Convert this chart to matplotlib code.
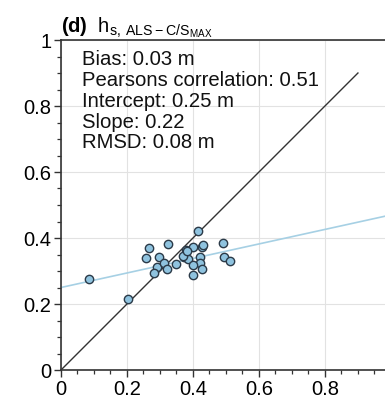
import matplotlib
matplotlib.use("Agg")
import matplotlib.pyplot as plt
from matplotlib.ticker import MultipleLocator

plt.rcParams['font.family'] = ['Liberation Sans', 'DejaVu Sans']
plt.rcParams['mathtext.fontset'] = 'custom'
plt.rcParams['mathtext.rm'] = 'Liberation Sans'
plt.rcParams['mathtext.bf'] = 'Liberation Sans:bold'
plt.rcParams['mathtext.default'] = 'regular'

# reference (x) vs estimate (y)
x_vals = [0.086, 0.204, 0.416, 0.268, 0.325, 0.258, 0.297, 0.290, 0.282, 0.312,
          0.320, 0.348, 0.378, 0.373, 0.386, 0.401, 0.427, 0.430, 0.421, 0.421,
          0.401, 0.428, 0.401, 0.490, 0.495, 0.512, 0.369, 0.383]
y_vals = [0.276, 0.214, 0.421, 0.369, 0.383, 0.338, 0.343, 0.313, 0.293, 0.323,
          0.306, 0.320, 0.364, 0.343, 0.335, 0.374, 0.374, 0.380, 0.343, 0.323,
          0.318, 0.306, 0.288, 0.386, 0.343, 0.330, 0.345, 0.360]

bias = 0.03
pearson_r = 0.51
intercept = 0.25
slope = 0.22
rmsd = 0.08
one_to_one_end = 0.9

fig = plt.figure(figsize=(3.85, 4.01), dpi=100)
ax = fig.add_axes([61 / 385, 31 / 401, 324 / 385, 330 / 401])

ax.grid(True, which='major', color='#e2e2e2', lw=0.8, zorder=0)

# 1:1 line
ax.plot([0, one_to_one_end], [0, one_to_one_end], color='#333333', lw=1.0, zorder=2)

# linear fit
xl = [0, 1]
ax.plot(xl, [intercept + slope * v for v in xl], color='#a6d0e4', lw=1.2, zorder=2)

ax.scatter(x_vals, y_vals, s=36, facecolor='#8fc3df', edgecolor='#2b3a48',
           linewidth=1.0, zorder=3)

ax.text(0.064, 0.969,
        f"Bias: {bias:.2f} m\n"
        f"Pearsons correlation: {pearson_r:.2f}\n"
        f"Intercept: {intercept:.2f} m\n"
        f"Slope: {slope:.2f}\n"
        f"RMSD: {rmsd:.2f} m",
        transform=ax.transAxes, va='top', ha='left', fontsize=14.6,
        linespacing=1.12, color='#111111')

ax.set_title(r"$\mathbf{(d)}$  $h_{s,\,ALS-C/S_{MAX}}$", loc='left',
             fontsize=14.5, pad=2, x=0.0)

ax.set_xlim(0, 0.982)
ax.set_ylim(0, 1)
ax.xaxis.set_major_locator(MultipleLocator(0.2))
ax.xaxis.set_minor_locator(MultipleLocator(0.05))
ax.yaxis.set_major_locator(MultipleLocator(0.2))
ax.yaxis.set_minor_locator(MultipleLocator(0.05))
ax.set_xticks([0, 0.2, 0.4, 0.6, 0.8])
ax.set_xticklabels(['0', '0.2', '0.4', '0.6', '0.8'])
ax.set_yticks([0, 0.2, 0.4, 0.6, 0.8, 1])
ax.set_yticklabels(['0', '0.2', '0.4', '0.6', '0.8', '1'])
ax.tick_params(which='major', direction='out', length=5, width=1.0,
               labelsize=14.5, color='#333333', pad=2)
ax.tick_params(which='minor', direction='out', length=3, width=0.9, color='#333333')

for side in ['left', 'bottom', 'top']:
    ax.spines[side].set_color('#333333')
    ax.spines[side].set_linewidth(1.2)
ax.spines['right'].set_visible(False)

fig.savefig('out.png', dpi=100)
